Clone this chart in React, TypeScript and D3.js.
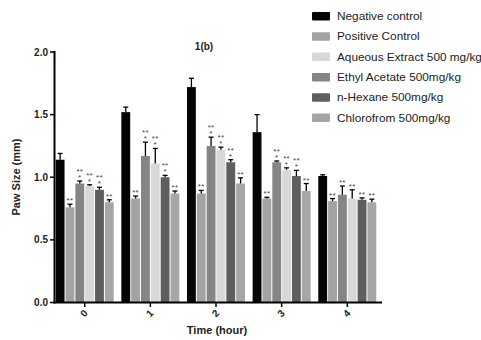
import React from "react";
import * as d3 from "d3";

const hours = ["0", "1", "2", "3", "4"];
const seriesNames = [
  "Negative control",
  "Positive Control",
  "Aqueous Extract 500 mg/kg",
  "Ethyl Acetate 500mg/kg",
  "n-Hexane 500mg/kg",
  "Chlorofrom 500mg/kg",
];
const seriesColors = ["#050505", "#a3a3a3", "#d8d8d8", "#858585", "#5e5e5e", "#a6a6a6"];
// order in which the series are drawn inside each group (as in the picture)
const barOrder = [0, 1, 3, 2, 4, 5];

const negative = [1.14, 1.52, 1.72, 1.36, 1.01];
const negativeErr = [0.05, 0.04, 0.07, 0.14, 0.01];
const positive = [0.76, 0.83, 0.87, 0.83, 0.81];
const positiveErr = [0.025, 0.02, 0.025, 0.01, 0.02];
const aqueous = [0.93, 1.11, 1.22, 1.06, 0.83];
const aqueousErr = [0.01, 0.12, 0.02, 0.015, 0.07];
const ethyl = [0.95, 1.17, 1.25, 1.12, 0.86];
const ethylErr = [0.02, 0.11, 0.07, 0.01, 0.07];
const hexane = [0.9, 1.0, 1.12, 1.01, 0.82];
const hexaneErr = [0.02, 0.015, 0.02, 0.045, 0.015];
const chloro = [0.8, 0.87, 0.95, 0.89, 0.8];
const chloroErr = [0.02, 0.02, 0.045, 0.06, 0.025];

const starsNegative = ["", "", "", "", ""];
const starsPositive = ["**", "**", "**", "**", "**"];
const starsAqueous = ["**|*", "**|*", "**|*", "**|*", "**"];
const starsEthyl = ["**|*", "**|*", "**|*", "**|*", "**"];
const starsHexane = ["**|*", "**|*", "**|*", "**|*", "**"];
const starsChloro = ["**", "**", "**", "**", "**"];

const yTicks = [0, 0.5, 1.0, 1.5, 2.0];

const values = [negative, positive, aqueous, ethyl, hexane, chloro];
const errors = [negativeErr, positiveErr, aqueousErr, ethylErr, hexaneErr, chloroErr];
const stars = [starsNegative, starsPositive, starsAqueous, starsEthyl, starsHexane, starsChloro];

const FONT = "'Liberation Sans', Arial, Helvetica, sans-serif";

export default function App() {
  const width = 481;
  const height = 340;
  const y = d3.scaleLinear().domain([0, 2]).range([302.5, 52]);
  const x0 = d3.scaleBand<string>().domain(hours).range([55.5, 376.5]).paddingInner(0.11).paddingOuter(0);
  const x1 = d3
    .scaleBand<number>()
    .domain(barOrder)
    .range([0, x0.bandwidth()])
    .paddingInner(0.1)
    .paddingOuter(0.02);

  return (
    <svg width={width} height={height} style={{ position: "absolute", left: 0, top: 0 }} fontFamily={FONT}>
      <rect width={width} height={height} fill="#fff" />
      {/* bars */}
      {hours.map((h, gi) => (
        <g key={h} transform={`translate(${x0(h)},0)`}>
          {barOrder.map((si) => {
            const bx = x1(si)!;
            const bw = x1.bandwidth();
            const v = values[si][gi];
            const e = errors[si][gi];
            const cx = bx + bw / 2;
            const top = y(v + e);
            const st = stars[si][gi];
            const lines = st ? st.split("|") : [];
            return (
              <g key={si}>
                <rect x={bx} y={y(v)} width={bw} height={y(0) - y(v)} fill={seriesColors[si]} />
                <line x1={cx} x2={cx} y1={y(v)} y2={top} stroke="#000" strokeWidth={1.3} />
                <line x1={cx - 2.5} x2={cx + 2.5} y1={top} y2={top} stroke="#000" strokeWidth={1.3} />
                {lines.map((t, li) => (
                  <text
                    key={li}
                    x={cx}
                    y={top - 1 - (lines.length - 1 - li) * 6}
                    fontSize={8}
                    textAnchor="middle"
                    fill="#444"
                    letterSpacing={0.3}
                  >
                    {t}
                  </text>
                ))}
              </g>
            );
          })}
        </g>
      ))}
      {/* axes */}
      <line x1={54.5} x2={54.5} y1={51} y2={303.5} stroke="#000" strokeWidth={2} />
      <line x1={53.5} x2={382} y1={302.5} y2={302.5} stroke="#000" strokeWidth={2} />
      {yTicks.map((t) => (
        <g key={t}>
          <line x1={50} x2={54} y1={y(t)} y2={y(t)} stroke="#000" strokeWidth={1.5} />
          <text x={48} y={y(t) + 3.5} fontSize={10} fontWeight="bold" textAnchor="end" fill="#222">
            {t.toFixed(1)}
          </text>
        </g>
      ))}
      {hours.map((h) => {
        const cx = x0(h)! + x0.bandwidth() / 2;
        return (
          <g key={h}>
            <line x1={cx} x2={cx} y1={303} y2={307} stroke="#000" strokeWidth={1.5} />
            <text
              transform={`translate(${cx},${314}) rotate(-45)`}
              fontSize={10}
              fontWeight="bold"
              textAnchor="middle"
              dominantBaseline="middle"
              fill="#222"
            >
              {h}
            </text>
          </g>
        );
      })}
      <text x={217} y={334} fontSize={11} fontWeight="bold" textAnchor="middle" fill="#222">
        Time (hour)
      </text>
      <text
        transform={`translate(${20},${177}) rotate(-90)`}
        fontSize={11}
        fontWeight="bold"
        textAnchor="middle"
        fill="#222"
      >
        Paw Size (mm)
      </text>
      <text x={204} y={50} fontSize={10} fontWeight="bold" textAnchor="middle" fill="#222">
        1(b)
      </text>
      {/* legend */}
      {seriesNames.map((n, i) => {
        const ly = 16 + i * 20.3;
        return (
          <g key={n}>
            <rect x={312} y={ly - 4} width={18} height={8.5} rx={1} fill={seriesColors[i]} />
            <text x={337} y={ly + 4} fontSize={11.8} fill="#222">
              {n}
            </text>
          </g>
        );
      })}
    </svg>
  );
}
